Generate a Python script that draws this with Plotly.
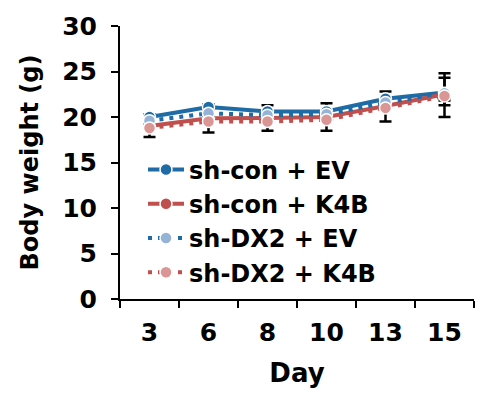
import plotly.graph_objects as go

days = ["3", "6", "8", "10", "13", "15"]
y_ticks = [0, 5, 10, 15, 20, 25, 30]

names = ["sh-con + EV", "sh-con + K4B", "sh-DX2 + EV", "sh-DX2 + K4B"]
con_ev = [20.0, 21.1, 20.6, 20.6, 22.0, 22.7]
con_k4b = [19.0, 19.85, 19.9, 20.0, 21.2, 22.5]
dx2_ev = [19.6, 20.4, 20.2, 20.3, 21.6, 22.6]
dx2_k4b = [18.8, 19.5, 19.5, 19.7, 21.0, 22.3]

# upper / lower error values
up_con_ev = [0.3, 0.3, 0.7, 0.9, 0.8, 2.1]
lo_con_ev = [0.3, 0.3, 0.3, 0.3, 0.3, 1.4]
up_con_k4b = [0.0, 0.0, 0.0, 0.0, 0.0, 1.8]
lo_con_k4b = [0.3, 0.3, 0.3, 0.3, 0.3, 2.5]
up_dx2_ev = [0.0, 0.0, 0.0, 0.0, 0.0, 0.0]
lo_dx2_ev = [0.3, 0.3, 0.3, 0.3, 0.3, 0.5]
up_dx2_k4b = [0.0, 0.0, 0.0, 0.0, 0.0, 0.0]
lo_dx2_k4b = [1.0, 1.2, 1.0, 1.2, 1.5, 0.5]

series = [con_ev, con_k4b, dx2_ev, dx2_k4b]
ups = [up_con_ev, up_con_k4b, up_dx2_ev, up_dx2_k4b]
los = [lo_con_ev, lo_con_k4b, lo_dx2_ev, lo_dx2_k4b]
line_colors = ["#1F6BA5", "#C0504D", "#1F6BA5", "#C0504D"]
marker_colors = ["#1F6BA5", "#C0504D", "#95B3D7", "#D99694"]
dashes = ["solid", "solid", "4px,6px", "4px,6px"]

FONT = "DejaVu Sans"

fig = go.Figure()
for nm, ys, up, lo, lc, mc, ds in zip(names, series, ups, los, line_colors, marker_colors, dashes):
    fig.add_trace(go.Scatter(
        x=days, y=ys, name=nm, mode="lines+markers",
        line=dict(color=lc, width=4, dash=ds),
        marker=dict(color=mc, size=12, symbol="circle", line=dict(color="white", width=1.5)),
        error_y=dict(type="data", symmetric=False, array=up, arrayminus=lo, visible=True,
                     color="black", thickness=2.5, width=6),
    ))

fig.update_layout(
    width=486, height=395,
    margin=dict(l=120, r=12, t=18, b=93),
    paper_bgcolor="white", plot_bgcolor="white",
    font=dict(family=FONT, color="black", size=25, weight="bold"),
    showlegend=True,
    legend=dict(
        x=0.065, y=0.555, xanchor="left", yanchor="top",
        bgcolor="rgba(0,0,0,0)",
        font=dict(family=FONT, size=24, color="black", weight="bold"),
        itemwidth=36, tracegroupgap=0,
    ),
)

fig.update_xaxes(
    type="category", range=[-0.5, 5.5],
    showline=True, linecolor="black", linewidth=2,
    ticks="outside", ticklen=7, tickwidth=2, tickcolor="black",
    tickson="boundaries", showgrid=False, zeroline=False,
    ticklabelstandoff=10,
    tickfont=dict(family=FONT, size=25, weight="bold"),
    title=dict(text="Day", font=dict(family=FONT, size=26, weight="bold"), standoff=18),
)
fig.update_yaxes(
    range=[0, 30], tickvals=y_ticks,
    showline=True, linecolor="black", linewidth=2,
    ticks="outside", ticklen=7, tickwidth=2, tickcolor="black",
    showgrid=False, zeroline=False,
    ticklabelstandoff=9,
    tickfont=dict(family=FONT, size=25, weight="bold"),
    title=dict(text="Body weight (g)", font=dict(family=FONT, size=24, weight="bold"), standoff=17),
)

fig.write_html("out.html")
